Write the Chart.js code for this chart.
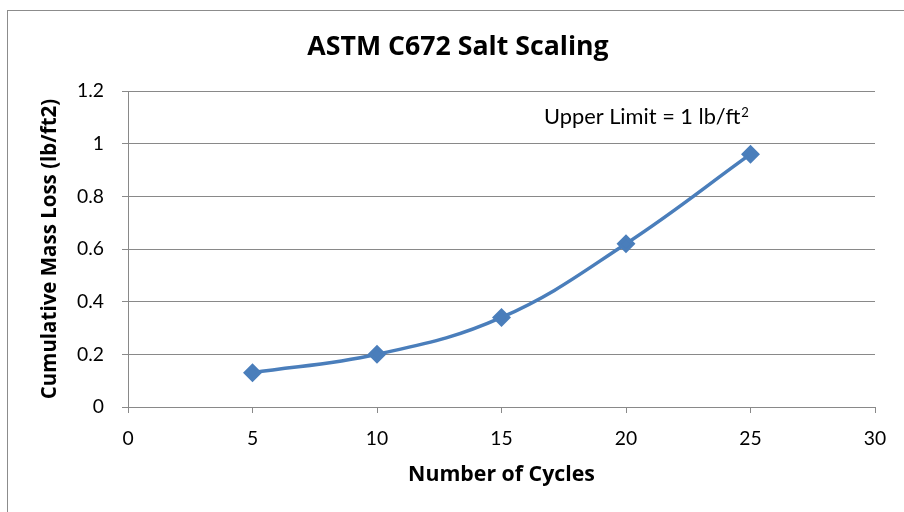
<!DOCTYPE html>
<html>
<head>
<meta charset="utf-8">
<script src="https://cdn.jsdelivr.net/npm/chart.js@4"></script>
<style>
  html, body { margin: 0; padding: 0; background: #fff; }
  #wrap { width: 904px; height: 512px; }
</style>
</head>
<body>
<div id="wrap"><canvas id="salt-chart"></canvas></div>
<script>
// data
const cycles = [5, 10, 15, 20, 25];
const massLoss = [0.13, 0.2, 0.34, 0.62, 0.96];
const xTicks = [0, 5, 10, 15, 20, 25, 30];
const yTicks = [0, 0.2, 0.4, 0.6, 0.8, 1, 1.2];

const BOLD = '"Open Sans", sans-serif';
const REG = 'Lato, "Open Sans", sans-serif';
const GRID = '#898989';
const BLUE = '#4a7ebb';

// pick a font size so a text comes out about as wide as in the picture
const meas = document.createElement('canvas').getContext('2d');
function fitSize(text, family, weight, width) {
  meas.font = weight + ' 100px ' + family;
  return Math.round(100 * width / meas.measureText(text).width * 10) / 10;
}
const titleSize = fitSize('ASTM C672 Salt Scaling', BOLD, 'bold', 301);
const xTitleSize = fitSize('Number of Cycles', BOLD, 'bold', 187);
const yTitleSize = fitSize('Cumulative Mass Loss (lb/ft2)', BOLD, 'bold', 300);
const tickSize = fitSize('1.2', REG, 'normal', 27);

// outer frame + the "Upper Limit" note
const extras = {
  id: 'extras',
  beforeDraw(chart) {
    const ctx = chart.ctx;
    ctx.save();
    ctx.strokeStyle = '#8c8c8c';
    ctx.lineWidth = 1;
    ctx.strokeRect(7.5, 10.5, 1000, 1000);
    ctx.restore();
  },
  afterDraw(chart) {
    const ctx = chart.ctx;
    const main = 'Upper Limit = 1 lb/ft';
    const size = fitSize(main, REG, 'normal', 196);
    ctx.save();
    ctx.fillStyle = '#000';
    ctx.textBaseline = 'alphabetic';
    ctx.textAlign = 'left';
    ctx.font = size + 'px ' + REG;
    ctx.fillText(main, 544, 124);
    const w = ctx.measureText(main).width;
    ctx.font = (size * 0.6).toFixed(1) + 'px ' + REG;
    ctx.fillText('2', 544 + w + 1, 117);
    ctx.restore();
  }
};

new Chart(document.querySelector('#salt-chart').getContext('2d'), {
  type: 'scatter',
  data: {
    datasets: [{
      label: 'Mass loss',
      data: cycles.map((c, i) => ({ x: c, y: massLoss[i] })),
      showLine: true,
      tension: 0.4,
      borderColor: BLUE,
      backgroundColor: BLUE,
      borderWidth: 3.5,
      pointStyle: 'rectRot',
      pointRadius: 7,
      pointHoverRadius: 7
    }]
  },
  options: {
    responsive: true,
    maintainAspectRatio: false,
    animation: false,
    layout: { padding: { left: 41, right: 29, top: 0, bottom: 0 } },
    plugins: {
      legend: { display: false },
      tooltip: { enabled: false },
      title: {
        display: true,
        text: 'ASTM C672 Salt Scaling',
        color: '#000',
        font: { family: BOLD, size: titleSize, weight: 'bold', lineHeight: 1.2 },
        padding: { top: 47 - titleSize * 0.6, bottom: 91 - 47 - titleSize * 0.6 }
      }
    },
    scales: {
      x: {
        type: 'linear',
        min: 0,
        max: 30,
        afterBuildTicks: s => { s.ticks = xTicks.map(v => ({ value: v })); },
        afterFit: s => { s.height = 105; },
        ticks: { color: '#000', font: { family: REG, size: tickSize }, padding: 14 },
        grid: { drawOnChartArea: false, color: GRID, tickLength: 6, tickColor: GRID },
        border: { color: GRID, width: 1 },
        title: {
          display: true,
          text: 'Number of Cycles',
          color: '#000',
          font: { family: BOLD, size: xTitleSize, weight: 'bold', lineHeight: 1.2 },
          padding: { top: 0, bottom: 37 - xTitleSize * 0.6 }
        }
      },
      y: {
        type: 'linear',
        min: 0,
        max: 1.2,
        afterBuildTicks: s => { s.ticks = yTicks.map(v => ({ value: v })); },
        afterFit: s => { s.width = 87; },
        ticks: {
          color: '#000',
          font: { family: REG, size: tickSize },
          padding: 18,
          callback: v => String(Math.round(v * 10) / 10)
        },
        grid: { color: GRID, tickLength: 6, tickColor: GRID },
        border: { color: GRID, width: 1 },
        title: {
          display: true,
          text: 'Cumulative Mass Loss (lb/ft2)',
          color: '#000',
          font: { family: BOLD, size: yTitleSize, weight: 'bold', lineHeight: 18 / yTitleSize },
          padding: { top: 0, bottom: 0 }
        }
      }
    }
  },
  plugins: [extras]
});
</script>
</body>
</html>
